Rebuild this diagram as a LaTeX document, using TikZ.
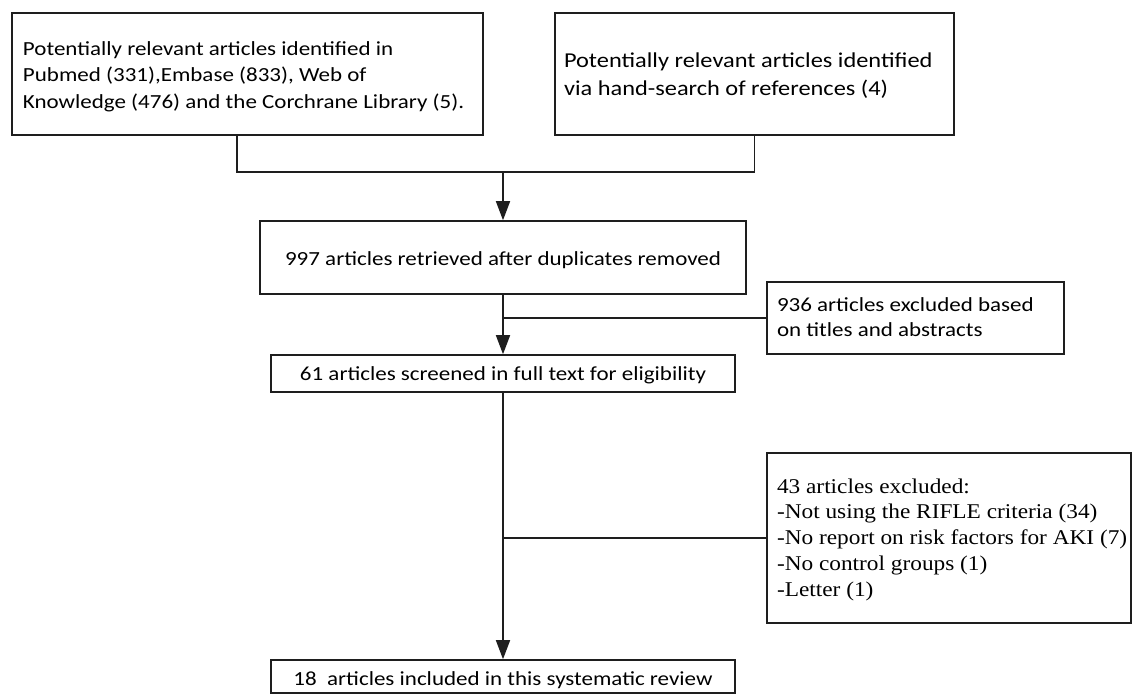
\documentclass[tikz,border=0pt]{standalone}
\usepackage{fontspec}
\usepackage{graphicx}
\setmainfont{Carlito}
\newfontfamily\timesf{Liberation Serif}
\usetikzlibrary{arrows.meta}
\definecolor{linec}{HTML}{1E1E1E}
% Calibri-like text, slightly widened as in the reference
\newcommand{\caltxt}[2][25.5]{\scalebox{1.15}[1]{\fontsize{20}{#1}\selectfont\begin{tabular}[t]{@{}l@{}}#2\end{tabular}}}
\newcommand{\timtxt}[1]{\scalebox{1.11}[1]{\timesf\fontsize{21}{25.8}\selectfont\begin{tabular}[t]{@{}l@{}}#1\end{tabular}}}
\begin{document}
\begin{tikzpicture}[x=1pt,y=-1pt,
  box/.style={draw=linec, line width=1.6pt, rectangle, inner xsep=0pt, inner ysep=0pt},
  conn/.style={draw=linec, line width=1.6pt},
  arr/.style={conn, -{Triangle[length=19pt,width=14pt]}}]
\fill[white] (0,0) rectangle (1133,694);
\useasboundingbox (0,0) rectangle (1133,694);
% boxes
\node[box, minimum width=471pt, minimum height=122pt, inner xsep=11pt, text height=15pt, text depth=53pt] (b1) at (247.5,74)
  {\makebox[449pt][l]{\caltxt[26.5]{Potentially relevant articles identified in\\ Pubmed (331),Embase (833), Web of\\ Knowledge (476) and the Corchrane Library (5).}}};
\node[box, minimum width=399pt, minimum height=122pt, inner xsep=9pt, text height=15pt, text depth=29pt] (b2) at (754.5,74)
  {\makebox[381pt][l]{\scalebox{1.15}[1]{\fontsize{21.2}{28}\selectfont\begin{tabular}[t]{@{}l@{}}Potentially relevant articles identified\\ via hand-search of references (4)\end{tabular}}}};
\node[box, minimum width=486pt, minimum height=73pt, text height=18pt, text depth=3pt] (b3) at (503,257.5)
  {\caltxt{997 articles retrieved after duplicates removed}};
\node[box, minimum width=297pt, minimum height=72pt, inner xsep=10pt, text height=15pt, text depth=29pt] (b4) at (915.5,318)
  {\makebox[277pt][l]{\caltxt{936 articles excluded based\\ on titles and abstracts}}};
\node[box, minimum width=464pt, minimum height=37pt, text height=16pt, text depth=3pt] (b5) at (503,373.5)
  {\caltxt{61 articles screened in full text for eligibility}};
\node[box, minimum width=364pt, minimum height=170pt, inner xsep=10pt, text height=15pt, text depth=105pt] (b6) at (949,538)
  {\makebox[344pt][l]{\timtxt{43 articles excluded:\\ -Not using the RIFLE criteria (34)\\ -No report on risk factors for AKI (7)\\ -No control groups (1)\\ -Letter (1)}}};
\node[box, minimum width=464pt, minimum height=33pt, text height=20pt, text depth=3pt] (b7) at (503,676.5)
  {\caltxt{18\ \ articles included in this systematic review}};
% connectors
\coordinate (j1) at (503,172);
\coordinate (j2) at (503,318);
\draw[conn] ([xshift=-10.5pt]b1.south) |- (j1);
\draw[conn] (b2.south) |- (j1);
\draw[arr] (j1) -- (b3.north);
\draw[arr] (b3.south) -- (b5.north);
\draw[conn] (j2) -- (b4.west);
\draw[arr] (b5.south) -- (b7.north);
\draw[conn] (b5.south |- b6.west) -- (b6.west);
\end{tikzpicture}
\end{document}
